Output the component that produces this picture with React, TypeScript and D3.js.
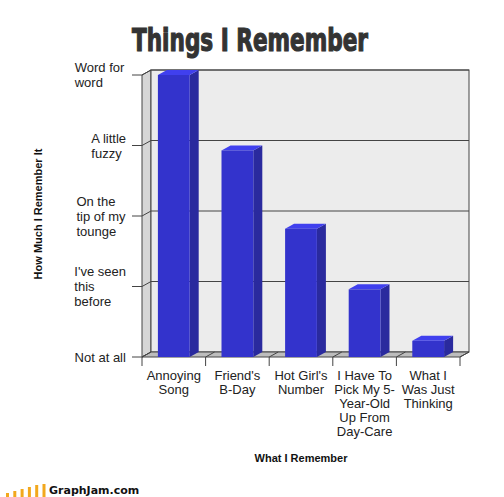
import * as d3 from "d3";
import { useEffect, useRef } from "react";

const categories = [
  ["Annoying", "Song"],
  ["Friend's", "B-Day"],
  ["Hot Girl's", "Number"],
  ["I Have To", "Pick My 5-", "Year-Old", "Up From", "Day-Care"],
  ["What I", "Was Just", "Thinking"],
];
const values = [4, 2.93, 1.82, 0.96, 0.23];
const levelLabels = [
  ["Not at all"],
  ["I've seen", "this", "before"],
  ["On the", "tip of my", "tounge"],
  ["A little", "fuzzy"],
  ["Word for", "word"],
];
const logoBars = [4, 6, 8, 10, 12, 13];

const FONT = "'Liberation Sans', Arial, sans-serif";

const App = () => {
  const ref = useRef<SVGSVGElement | null>(null);

  useEffect(() => {
    const svg = d3.select(ref.current);
    svg.selectAll("*").remove();

    const x0 = 142,
      x1 = 460,
      yBottom = 357,
      yTop = 75,
      dx = 9,
      dy = -5;

    const x = d3
      .scaleBand<number>()
      .domain(d3.range(categories.length))
      .range([x0, x1])
      .paddingInner(0.5)
      .paddingOuter(0.25);
    const y = d3.scaleLinear().domain([0, 4]).range([yBottom, yTop]);
    const ticks = d3.range(0, 5);
    const line = d3.line();

    // title
    svg
      .append("text")
      .attr("x", 132)
      .attr("y", 51)
      .attr("textLength", 236)
      .attr("lengthAdjust", "spacingAndGlyphs")
      .attr("font-family", "'DejaVu Sans Condensed', 'DejaVu Sans', sans-serif")
      .attr("font-weight", "bold")
      .attr("font-size", 32)
      .attr("fill", "#333")
      .attr("stroke", "#333")
      .attr("stroke-width", 1.2)
      .text("Things I Remember");

    // left wall
    svg
      .append("path")
      .attr("d", line([[x0, yBottom], [x0, yTop], [x0 + dx, yTop + dy], [x0 + dx, yBottom + dy]]) + "Z")
      .attr("fill", "#d6d6d6")
      .attr("stroke", "#444");
    // back wall
    svg
      .append("rect")
      .attr("x", x0 + dx)
      .attr("y", yTop + dy)
      .attr("width", x1 - x0)
      .attr("height", yBottom - yTop)
      .attr("fill", "#ececec")
      .attr("stroke", "#444");
    // floor
    svg
      .append("path")
      .attr("d", line([[x0, yBottom], [x1, yBottom], [x1 + dx, yBottom + dy], [x0 + dx, yBottom + dy]]) + "Z")
      .attr("fill", "#bdbdbd")
      .attr("stroke", "#444");

    // grid lines
    ticks.slice(1).forEach((t) => {
      svg
        .append("path")
        .attr("d", line([[x0 - 10, y(t)], [x0, y(t)], [x0 + dx, y(t) + dy], [x1 + dx, y(t) + dy]]))
        .attr("fill", "none")
        .attr("stroke", "#444");
    });
    svg
      .append("line")
      .attr("x1", x0 - 10)
      .attr("x2", x0)
      .attr("y1", yBottom)
      .attr("y2", yBottom)
      .attr("stroke", "#444");

    // floor separators and x ticks
    const bounds = d3.range(categories.length + 1).map((i) => x0 + x.step() * i);
    bounds.forEach((bx) => {
      svg
        .append("path")
        .attr("d", line([[bx, yBottom + 9], [bx, yBottom], [bx + dx, yBottom + dy]]))
        .attr("fill", "none")
        .attr("stroke", "#444");
    });

    // bars
    const bars = svg.append("g");
    values.forEach((v, i) => {
      const bx = x(i)!,
        bw = x.bandwidth(),
        by = y(v);
      bars
        .append("path")
        .attr("d", line([[bx + bw, by], [bx + bw + dx, by + dy], [bx + bw + dx, yBottom + dy], [bx + bw, yBottom]]) + "Z")
        .attr("fill", "#2a2a9e");
      bars
        .append("path")
        .attr("d", line([[bx, by], [bx + dx, by + dy], [bx + bw + dx, by + dy], [bx + bw, by]]) + "Z")
        .attr("fill", "#4040ee");
      bars
        .append("rect")
        .attr("x", bx)
        .attr("y", by)
        .attr("width", bw)
        .attr("height", yBottom - by)
        .attr("fill", "#3333cc");
    });

    // y labels: left-aligned block, right edge near the tick
    const lh = 15;
    levelLabels.forEach((lines, t) => {
      const g = svg.append("g");
      const txt = g
        .append("text")
        .attr("font-family", FONT)
        .attr("font-size", 13)
        .attr("fill", "#222");
      lines.forEach((s, j) => {
        txt
          .append("tspan")
          .attr("x", 0)
          .attr("y", (j - (lines.length - 1) / 2) * lh + 4.5)
          .text(s);
      });
      const w = (txt.node() as SVGTextElement).getBBox().width;
      g.attr("transform", `translate(${126 - w},${y(t)})`);
    });

    // x labels
    categories.forEach((lines, i) => {
      const txt = svg
        .append("text")
        .attr("font-family", FONT)
        .attr("font-size", 13)
        .attr("fill", "#222")
        .attr("text-anchor", "middle");
      lines.forEach((s, j) => {
        txt
          .append("tspan")
          .attr("x", x(i)! + x.bandwidth() / 2)
          .attr("y", 380 + j * 14)
          .text(s);
      });
    });

    // axis titles
    svg
      .append("text")
      .attr("transform", "translate(42,214) rotate(-90)")
      .attr("text-anchor", "middle")
      .attr("font-family", FONT)
      .attr("font-weight", "bold")
      .attr("font-size", 11)
      .attr("fill", "#111")
      .text("How Much I Remember It");
    svg
      .append("text")
      .attr("x", 301)
      .attr("y", 462)
      .attr("text-anchor", "middle")
      .attr("font-family", FONT)
      .attr("font-weight", "bold")
      .attr("font-size", 11)
      .attr("fill", "#111")
      .text("What I Remember");

    // footer logo
    const logo = svg.append("g");
    logoBars.forEach((h, i) => {
      logo
        .append("rect")
        .attr("x", 6 + i * 7.3)
        .attr("y", 497 - h)
        .attr("width", 3)
        .attr("height", h)
        .attr("fill", "#f2a81d");
    });
    logo
      .append("text")
      .attr("x", 49)
      .attr("y", 494)
      .attr("font-family", "'DejaVu Sans', sans-serif")
      .attr("font-weight", "bold")
      .attr("font-size", 11)
      .attr("fill", "#111")
      .text("GraphJam.com");
  }, []);

  return (
    <svg
      ref={ref}
      width={504}
      height={497}
      style={{ position: "absolute", left: 0, top: 0, background: "#fff" }}
    ></svg>
  );
};

export default App;
